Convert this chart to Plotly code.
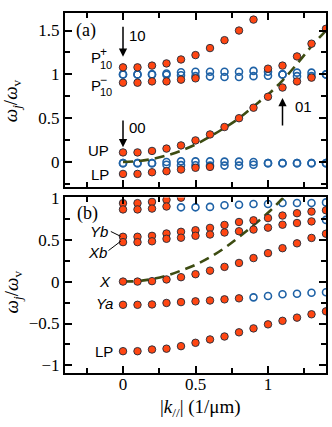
import plotly.graph_objects as go

# wavevector grid (1/um)
k_all = [0.0, 0.1, 0.2, 0.3, 0.4, 0.5, 0.6, 0.7, 0.8, 0.9, 1.0, 1.1, 1.2, 1.3, 1.4]

# ---- panel (a) ----
a_p10_plus = [1.08, 1.08, 1.10, 1.125, 1.17, 1.22, 1.30, 1.39, 1.50, 1.625]
a_p10_minus = [0.905, 0.905, 0.92, 0.92, 0.94, 0.955]
a_upper_cross = [1.065, 1.10, 1.205, 1.35, 1.52]          # k = 1.0 .. 1.4
a_up = [0.11, 0.11, 0.127, 0.154, 0.19, 0.247, 0.315, 0.40, 0.50, 0.62, 0.745, 0.85, 0.92, 0.963]
a_lp = [-0.135, -0.135, -0.116, -0.104, -0.085, -0.065, -0.055]
a_blue_1a = [1.0, 1.0, 1.0, 1.01, 1.025, 1.03, 1.03, 1.03, 1.03, 1.04, 1.03, 1.0, 1.02, 1.02, 1.0]
a_blue_1b = [1.0, 1.0, 1.0, 0.995, 0.99, 0.98, 0.975, 0.97, 0.97, 0.98, 0.985, 1.0, 0.98, 0.98, 1.0]
a_blue_0a = [-0.012, -0.012, -0.012, 0.0, 0.008, 0.008, 0.008, 0.005, 0.005, 0.0, -0.012, -0.012, -0.012, -0.012, -0.012]
a_blue_0b = [-0.012, -0.012, -0.012, -0.03, -0.035, -0.037, -0.04, -0.04, -0.04, -0.03, -0.012, -0.012, -0.012, -0.012, -0.012]
a_dash = [0.0, 0.01, 0.035, 0.075, 0.13, 0.2, 0.29, 0.39, 0.5, 0.635, 0.77, 0.93, 1.12, 1.32, 1.5]

# ---- panel (b) ----
b_top_hi = [0.935, 0.935, 0.95, 0.975, 1.0]
b_top_lo = [0.86, 0.86, 0.87, 0.895]
b_top_blue = [0.885, 0.885, 0.89, 0.91, 0.916, 0.924, 0.924, 0.936, 0.936, 0.936, 0.944]   # k = 0.4 .. 1.4
b_yb = [0.534, 0.534, 0.545, 0.573, 0.593, 0.612, 0.64, 0.675, 0.71, 0.73, 0.757, 0.787, 0.815, 0.834, 0.85]
b_xb = [0.47, 0.47, 0.48, 0.51, 0.523, 0.546, 0.561, 0.585, 0.60, 0.62, 0.643, 0.678, 0.698, 0.717]
b_xb_blue_end = [0.735]                                     # k = 1.4
b_x = [0.0, 0.0, 0.005, 0.025, 0.052, 0.088, 0.13, 0.175, 0.222, 0.28, 0.339, 0.398, 0.456, 0.52, 0.57]
b_ya_red = [-0.277, -0.277, -0.273, -0.255, -0.245, -0.236, -0.226, -0.212, -0.2]
b_ya_blue = [-0.188, -0.172, -0.152, -0.146, -0.133, -0.128]  # k = 0.9 .. 1.4
b_lp = [-0.83, -0.83, -0.81, -0.80, -0.77, -0.73, -0.69, -0.655, -0.605, -0.558, -0.51, -0.468, -0.43, -0.39, -0.355]
b_dash = [0.0, 0.005, 0.03, 0.07, 0.13, 0.2, 0.29, 0.4, 0.53, 0.67, 0.82, 0.99, 1.18]

RED = "#ff4612"
EDGE = "#1e2a3a"
BLUE = "#1f62a6"
DASH = "#3d4c12"
SERIF = "Liberation Serif"
SANS = "Liberation Sans"


def red(xs, ys, xa, ya):
    return go.Scatter(x=xs, y=ys, mode="markers", xaxis=xa, yaxis=ya, showlegend=False,
                      marker=dict(size=7.5, color=RED, line=dict(color=EDGE, width=0.9)))


def blue(xs, ys, xa, ya):
    return go.Scatter(x=xs, y=ys, mode="markers", xaxis=xa, yaxis=ya, showlegend=False,
                      marker=dict(size=7, symbol="circle-open", color=BLUE, line=dict(color=BLUE, width=1.6)))


def dash(xs, ys, xa, ya):
    return go.Scatter(x=xs, y=ys, mode="lines", xaxis=xa, yaxis=ya, showlegend=False,
                      line=dict(color=DASH, width=2.6, dash="10px,6px", shape="spline"))


fig = go.Figure()
# panel (a)
fig.add_trace(blue(k_all, a_blue_1a, "x", "y"))
fig.add_trace(blue(k_all, a_blue_1b, "x", "y"))
fig.add_trace(blue(k_all, a_blue_0a, "x", "y"))
fig.add_trace(blue(k_all, a_blue_0b, "x", "y"))
fig.add_trace(dash(k_all, a_dash, "x", "y"))
fig.add_trace(red(k_all[:len(a_p10_plus)], a_p10_plus, "x", "y"))
fig.add_trace(red(k_all[:len(a_p10_minus)], a_p10_minus, "x", "y"))
fig.add_trace(red(k_all[10:], a_upper_cross, "x", "y"))
fig.add_trace(red(k_all[:len(a_up)], a_up, "x", "y"))
fig.add_trace(red(k_all[:len(a_lp)], a_lp, "x", "y"))
# panel (b)
fig.add_trace(blue(k_all[4:], b_top_blue, "x2", "y2"))
fig.add_trace(blue(k_all[14:], b_xb_blue_end, "x2", "y2"))
fig.add_trace(blue(k_all[9:], b_ya_blue, "x2", "y2"))
fig.add_trace(dash(k_all[:len(b_dash)], b_dash, "x2", "y2"))
fig.add_trace(red(k_all[:len(b_top_hi)], b_top_hi, "x2", "y2"))
fig.add_trace(red(k_all[:len(b_top_lo)], b_top_lo, "x2", "y2"))
fig.add_trace(red(k_all, b_yb, "x2", "y2"))
fig.add_trace(red(k_all[:len(b_xb)], b_xb, "x2", "y2"))
fig.add_trace(red(k_all, b_x, "x2", "y2"))
fig.add_trace(red(k_all[:len(b_ya_red)], b_ya_red, "x2", "y2"))
fig.add_trace(red(k_all, b_lp, "x2", "y2"))

axis_common = dict(showline=True, linecolor="black", linewidth=2, mirror="allticks",
                   ticks="inside", ticklen=7, tickwidth=1.5, tickcolor="black",
                   showgrid=False, zeroline=False,
                   tickfont=dict(family=SERIF, size=17, color="black"),
                   minor=dict(ticks="inside", ticklen=5, tickwidth=1.5, tickcolor="black", dtick=0.25, tick0=0))

fig.update_layout(
    width=332, height=427,
    margin=dict(l=65, r=4, t=6, b=54),
    paper_bgcolor="white", plot_bgcolor="white",
    xaxis=dict(axis_common, domain=[0, 1], range=[-0.4, 1.4], anchor="y", tick0=0, dtick=0.5,
               showticklabels=False),
    yaxis=dict(axis_common, domain=[0.5177, 1.0], range=[-0.28, 1.7], anchor="x", tick0=0, dtick=0.5),
    xaxis2=dict(axis_common, domain=[0, 1], range=[-0.4, 1.4], anchor="y2", tick0=0, dtick=0.5,
                tickvals=[0, 0.5, 1], ticktext=["0", "0.5", "1"], ticklabelstandoff=-5),
    yaxis2=dict(axis_common, domain=[0, 0.4877], range=[-1.09, 1.003], anchor="x2", tick0=0, dtick=0.5),
)

ann = []


def txt(x, y, s, xref, yref, size=15, family=SANS, xanchor="center", yanchor="middle"):
    ann.append(dict(x=x, y=y, xref=xref, yref=yref, text=s, showarrow=False,
                    font=dict(family=family, size=size, color="black"),
                    xanchor=xanchor, yanchor=yanchor))


def arrow(x, y0, y1, yref):
    ann.append(dict(x=x, y=y1, ax=x, ay=y0, xref="x", yref=yref, axref="x", ayref=yref,
                    text="", showarrow=True, arrowhead=2, arrowsize=1.1, arrowwidth=1.5,
                    arrowcolor="black", standoff=0, startstandoff=0))


# panel (a) labels
txt(-0.253, 1.505, "(a)", "x", "y", size=18, family=SERIF)
arrow(0.0, 1.56, 1.2, "y")
txt(0.03, 1.44, "10", "x", "y", xanchor="left")
arrow(0.0, 0.49, 0.17, "y")
txt(0.03, 0.40, "00", "x", "y", xanchor="left")
arrow(1.1, 0.40, 0.73, "y")
txt(1.17, 0.63, "01", "x", "y", xanchor="left")
txt(-0.185, 1.19, "P", "x", "y")
txt(-0.134, 1.255, "+", "x", "y", size=12)
txt(-0.116, 1.11, "10", "x", "y", size=11)
txt(-0.185, 0.876, "P", "x", "y")
txt(-0.134, 0.935, "\u2212", "x", "y", size=12)
txt(-0.116, 0.80, "10", "x", "y", size=11)
txt(-0.085, 0.135, "UP", "x", "y", xanchor="right")
txt(-0.085, -0.146, "LP", "x", "y", xanchor="right")

# panel (b) labels
txt(-0.247, 0.81, "(b)", "x2", "y2", size=18, family=SERIF)
txt(-0.09, 0.60, "<i>Yb</i>", "x2", "y2", xanchor="right")
txt(-0.10, 0.345, "<i>Xb</i>", "x2", "y2", xanchor="right")
txt(-0.068, 0.0, "<i>X</i>", "x2", "y2", xanchor="right")
txt(-0.055, -0.262, "<i>Ya</i>", "x2", "y2", xanchor="right")
txt(-0.055, -0.828, "LP", "x2", "y2", xanchor="right")

# axis titles
ytitle = "<i>\u03c9</i><sub><i>j</i></sub>/<i>\u03c9</i><sub>v</sub>"
for yc in (0.757, 0.226):
    ann.append(dict(x=-0.2, y=yc, xref="paper", yref="paper", text=ytitle, showarrow=False,
                    textangle=-90, xanchor="center", yanchor="middle",
                    font=dict(family=SERIF, size=19, color="black")))
ann.append(dict(x=0.52, y=-0.097, xref="paper", yref="paper", xanchor="center", yanchor="middle",
                text="|<i>k</i><sub>//</sub>| (1/\u03bcm)", showarrow=False,
                font=dict(family=SERIF, size=19, color="black")))

fig.update_layout(annotations=ann)
fig.update_layout(shapes=[
    dict(type="line", xref="x2", yref="y2", x0=-0.084, y0=0.597, x1=-0.016, y1=0.539,
         line=dict(color="black", width=1)),
    dict(type="line", xref="x2", yref="y2", x0=-0.10, y0=0.37, x1=-0.016, y1=0.48,
         line=dict(color="black", width=1)),
])

fig.write_html("out.html", config={"displayModeBar": False},
               post_script="document.body.style.margin='0px';")
